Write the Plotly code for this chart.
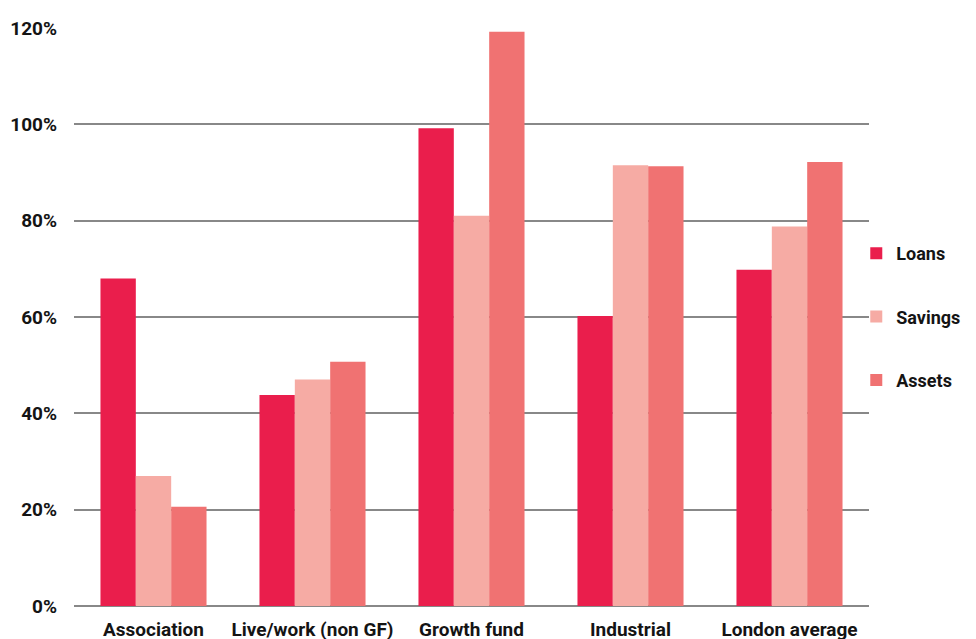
import plotly.graph_objects as go

categories = ["Association", "Live/work (non GF)", "Growth fund", "Industrial", "London average"]
loans = [68.0, 43.8, 99.2, 60.2, 69.8]
savings = [27.0, 47.0, 81.0, 91.5, 78.8]
assets = [20.6, 50.7, 119.2, 91.3, 92.2]
y_ticks = [0, 20, 40, 60, 80, 100, 120]
y_labels = ["0%", "20%", "40%", "60%", "80%", "100%", "120%"]

series = [("Loans", loans, "#EA1E4C"), ("Savings", savings, "#F6ABA4"), ("Assets", assets, "#F07272")]

fig = go.Figure()
for name, vals, col in series:
    fig.add_trace(go.Bar(x=categories, y=vals, name=name, marker_color=col,
                         marker_line_width=0, legendgroup=name))

FAM = "Roboto"
tf = dict(family=FAM, size=19, color="#141414", weight="bold")
lf = dict(family=FAM, size=18, color="#141414", weight="bold")
fig.update_layout(
    width=968, height=631,
    margin=dict(l=66, r=107, t=20, b=33, autoexpand=False),
    paper_bgcolor="white", plot_bgcolor="white",
    barmode="group", bargap=0.333, bargroupgap=0,
    font=dict(family=FAM, size=19, color="#141414"),
    legend=dict(x=0.984, y=0.5, yanchor="middle", xanchor="left",
                tracegroupgap=37, font=lf, itemwidth=30,
                bgcolor="rgba(0,0,0,0)"),
    showlegend=True,
)
fig.update_xaxes(showgrid=False, showline=False, zeroline=False, ticks="",
                 tickangle=0, automargin=False, ticklabelstandoff=10, tickfont=tf)
fig.update_yaxes(range=[0, 120], tickvals=y_ticks, ticktext=y_labels,
                 showgrid=True, gridcolor="#888888", gridwidth=2,
                 zeroline=True, zerolinecolor="#888888", zerolinewidth=2,
                 showline=False, ticks="", ticklabelstandoff=16,
                 automargin=False, tickfont=tf)
fig.write_html("out.html")
